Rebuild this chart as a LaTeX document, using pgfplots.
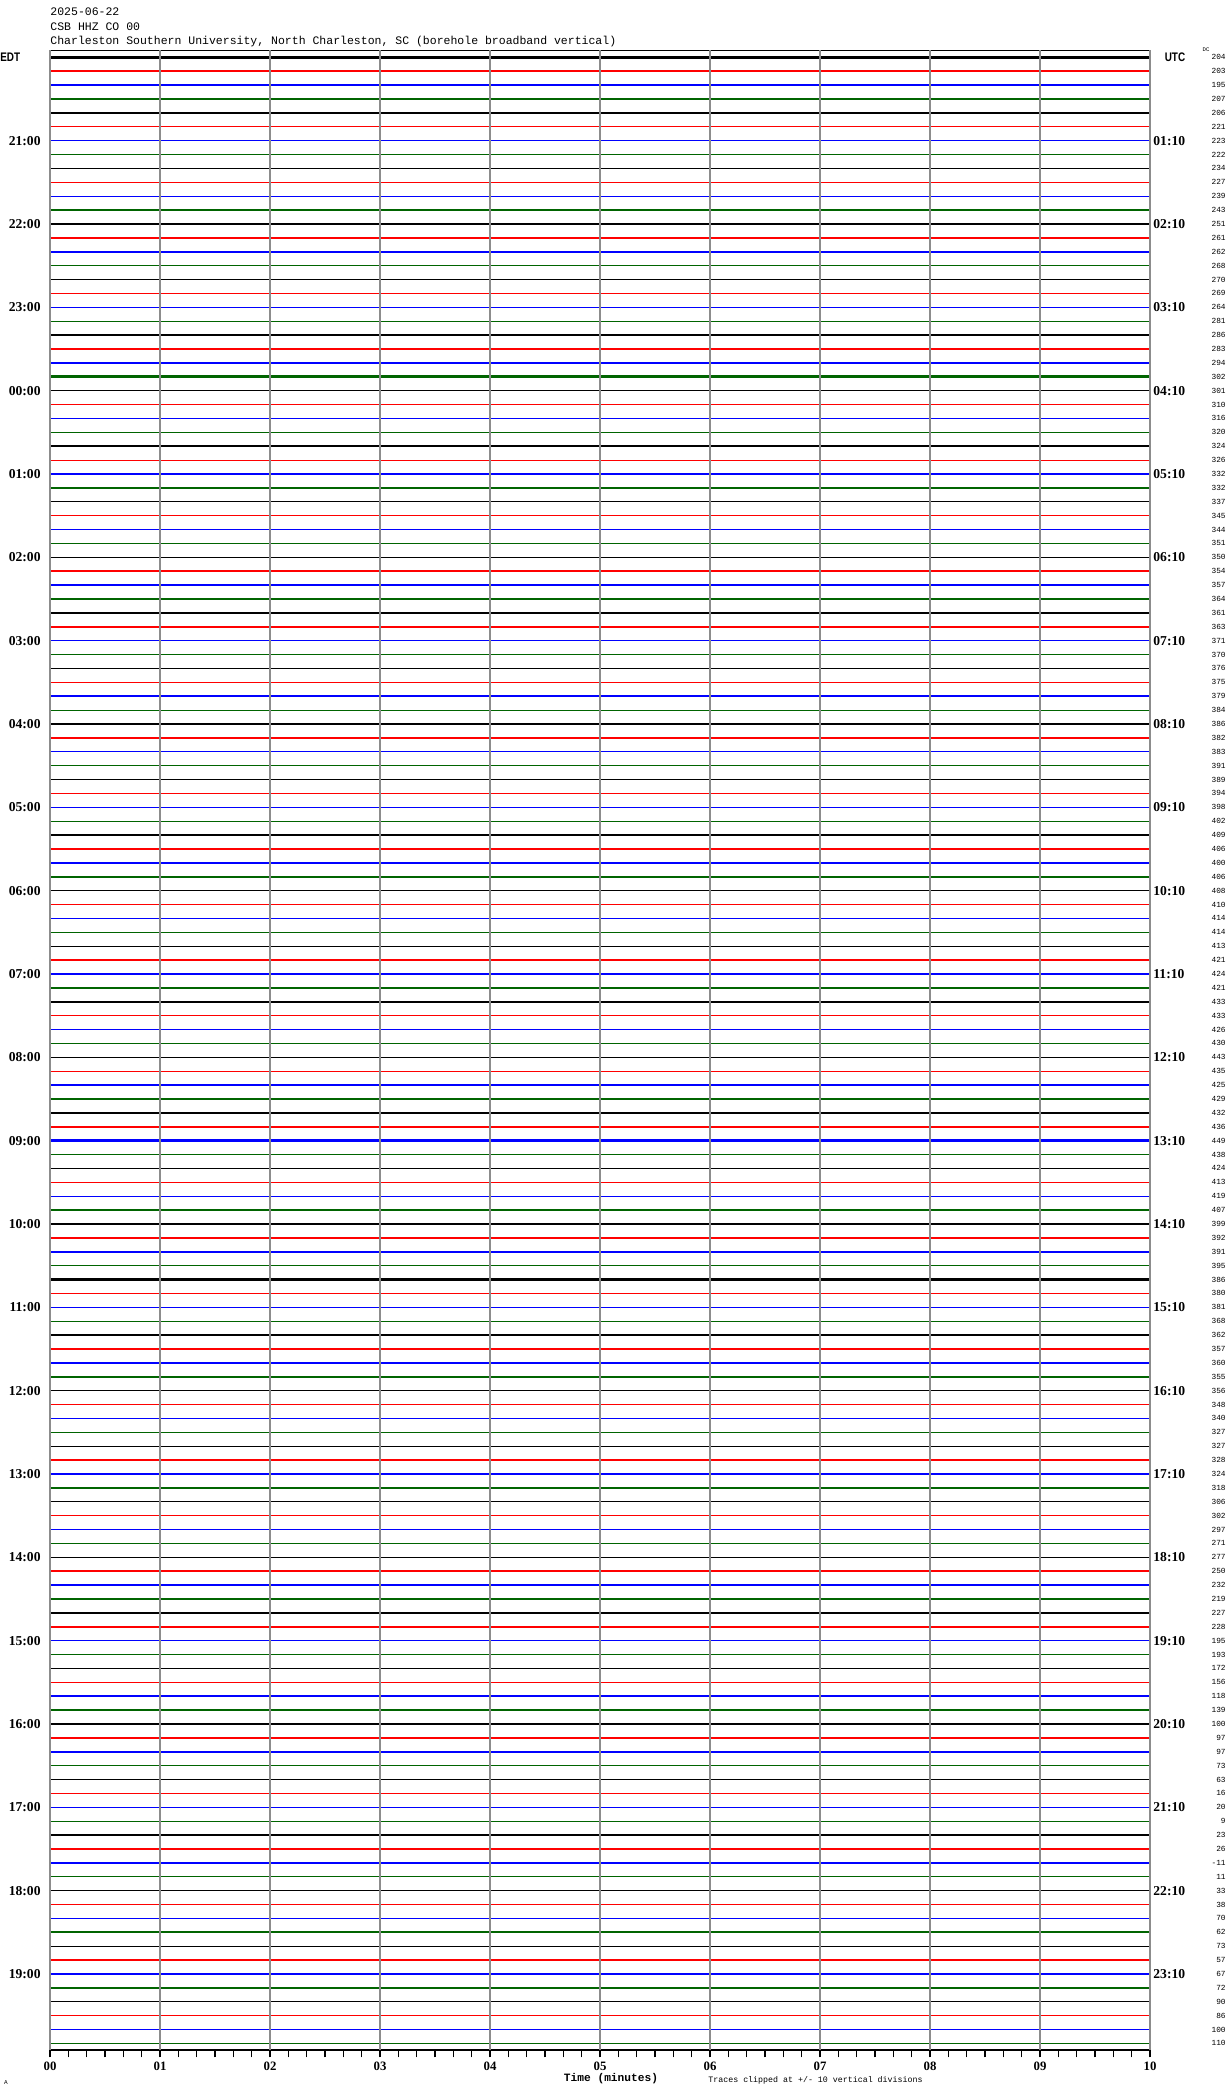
\documentclass[border=0pt]{standalone}
\usepackage{pgfplots}
\pgfplotsset{compat=1.18}
\usepackage{pgfplotstable}
\usepackage{fontspec}
\setmainfont{Liberation Serif}
\newfontfamily\monofont{Liberation Mono}
\newfontfamily\sansfont{Liberation Sans}

\definecolor{tred}{RGB}{255,0,0}
\definecolor{tblue}{RGB}{0,0,255}
\definecolor{tgreen}{RGB}{0,100,0}
\definecolor{gridgray}{RGB}{140,140,140}

% row = trace index (10 min each, from 20:00 EDT), dc = offset printed at right, lvl = noise look
\pgfplotstableread{
row dc lvl
0 204 2
1 203 1
2 195 2
3 207 2
4 206 1
5 221 0
6 223 0
7 222 1
8 234 0
9 227 0
10 239 0
11 243 1
12 251 2
13 261 2
14 262 1
15 268 1
16 270 0
17 269 0
18 264 0
19 281 0
20 286 2
21 283 2
22 294 2
23 302 2
24 301 0
25 310 0
26 316 0
27 320 0
28 324 1
29 326 0
30 332 2
31 332 1
32 337 0
33 345 0
34 344 1
35 351 0
36 350 0
37 354 1
38 357 2
39 364 2
40 361 2
41 363 1
42 371 0
43 370 0
44 376 0
45 375 0
46 379 1
47 384 0
48 386 2
49 382 1
50 383 0
51 391 0
52 389 0
53 394 0
54 398 0
55 402 0
56 409 1
57 406 2
58 400 2
59 406 1
60 408 0
61 410 0
62 414 0
63 414 0
64 413 0
65 421 2
66 424 1
67 421 1
68 433 1
69 433 0
70 426 0
71 430 0
72 443 0
73 435 0
74 425 2
75 429 2
76 432 1
77 436 1
78 449 2
79 438 0
80 424 0
81 413 0
82 419 0
83 407 2
84 399 2
85 392 2
86 391 1
87 395 1
88 386 2
89 380 0
90 381 0
91 368 0
92 362 1
93 357 2
94 360 2
95 355 1
96 356 0
97 348 0
98 340 0
99 327 0
100 327 0
101 328 1
102 324 2
103 318 1
104 306 0
105 302 0
106 297 0
107 271 0
108 277 0
109 250 1
110 232 2
111 219 1
112 227 2
113 228 1
114 195 0
115 193 0
116 172 0
117 156 0
118 118 1
119 139 1
120 100 2
121 97 1
122 97 1
123 73 0
124 63 0
125 16 0
126 20 0
127 9 0
128 23 1
129 26 2
130 -11 2
131 11 0
132 33 0
133 38 0
134 70 0
135 62 1
136 73 0
137 57 1
138 67 2
139 72 1
140 90 0
141 86 0
142 100 0
143 110 0
}\traces

\tikzset{
  col0/.style={black}, col1/.style={tred}, col2/.style={tblue}, col3/.style={tgreen},
  lv0/.style={line width=0.5pt}, lv1/.style={line width=0.85pt}, lv2/.style={line width=1.3pt},
}
\pgfplotsset{
  heli/.style={at={(0,0)}, anchor=south west, scale only axis,
    width=550pt, height=1000pt, xmin=0, xmax=10, ymin=-0.5, ymax=143.5,
    y dir=reverse, axis line style={draw=none}},
}

\begin{document}
\begin{tikzpicture}
% text around the plot, positions in pixels of the 1230x2094 image
\begin{scope}[shift={(-25pt,1025.15pt)}, x=0.5pt, y=-0.5pt]
\useasboundingbox (0,0) rectangle (1230,2094);
\begin{scope}[every node/.style={inner sep=0pt, anchor=west, font=\monofont\fontsize{5.75}{6}\selectfont}]
\node at (50,12) {2025-06-22};
\node at (50,27) {CSB HHZ CO 00};
\node at (50,42) {Charleston Southern University, North Charleston, SC (borehole broadband vertical)};
\end{scope}
\node[inner sep=0pt, anchor=west, xscale=0.8, font=\sansfont\bfseries\fontsize{6.2}{7}\selectfont] at (0,57) {EDT};
\node[inner sep=0pt, xscale=0.8, font=\sansfont\bfseries\fontsize{6.2}{7}\selectfont] at (1175,57) {UTC};
\node[inner sep=0pt, font=\monofont\fontsize{2.8}{3}\selectfont] at (1206,50) {DC};
\node[inner sep=0pt, font=\monofont\bfseries\fontsize{5.6}{6}\selectfont] at (611,2079) {Time (minutes)};
\node[inner sep=0pt, anchor=west, font=\monofont\fontsize{4.15}{5}\selectfont] at (708,2080) {Traces clipped at +/- 10 vertical divisions};
\node[inner sep=0pt, font=\monofont\fontsize{3}{3}\selectfont] at (6,2083) {A};
\end{scope}

\begin{axis}[heli, axis on top,
  xtick={0,...,10}, xticklabels={00,01,02,03,04,05,06,07,08,09,10},
  minor x tick num=5, xtick pos=left, tick align=outside,
  major tick length=3.5pt, minor tick length=3.5pt,
  x tick style={black, line width=0.6pt},
  xmajorgrids, major x grid style={gridgray, line width=0.6pt},
  xticklabel style={font=\bfseries\fontsize{6.4}{7}\selectfont, inner sep=0pt, yshift=-2pt},
  ytick={6,12,...,138},
  yticklabels={21:00,22:00,23:00,00:00,01:00,02:00,03:00,04:00,05:00,06:00,07:00,08:00,
    09:00,10:00,11:00,12:00,13:00,14:00,15:00,16:00,17:00,18:00,19:00},
  ytick pos=left, ytick style={draw=none},
  yticklabel style={font=\bfseries\fontsize{6.8}{7}\selectfont, inner sep=0pt, xshift=-1pt},
]
\pgfplotsinvokeforeach{0,...,143}{
  \pgfmathtruncatemacro{\cc}{mod(#1,4)}
  \pgfplotstablegetelem{#1}{lvl}\of\traces
  \edef\doplot{\noexpand\addplot[col\cc, lv\pgfplotsretval, forget plot] coordinates {(0,#1) (10,#1)};}
  \doplot
}
\draw[black, line width=0.8pt] (axis cs:0,-0.5) -- (axis cs:10,-0.5);
\draw[black, line width=1pt] (axis cs:0,143.5) -- (axis cs:10,143.5);
\end{axis}

% UTC hour labels at the right
\begin{axis}[heli, xtick=\empty,
  ytick={6,12,...,138},
  yticklabels={01:10,02:10,03:10,04:10,05:10,06:10,07:10,08:10,09:10,10:10,11:10,12:10,
    13:10,14:10,15:10,16:10,17:10,18:10,19:10,20:10,21:10,22:10,23:10},
  yticklabel pos=right, ytick style={draw=none},
  yticklabel style={font=\bfseries\fontsize{6.8}{7}\selectfont, anchor=west, inner sep=0pt, xshift=1.5pt},
]
\end{axis}

% DC offsets, one per trace
\begin{axis}[heli, xtick=\empty,
  ytick={0,...,143}, yticklabels from table={\traces}{dc},
  yticklabel pos=right, ytick style={draw=none},
  yticklabel style={font=\monofont\fontsize{3.9}{4}\selectfont, anchor=east, inner sep=0pt, xshift=38pt},
]
\end{axis}
\end{tikzpicture}
\end{document}
